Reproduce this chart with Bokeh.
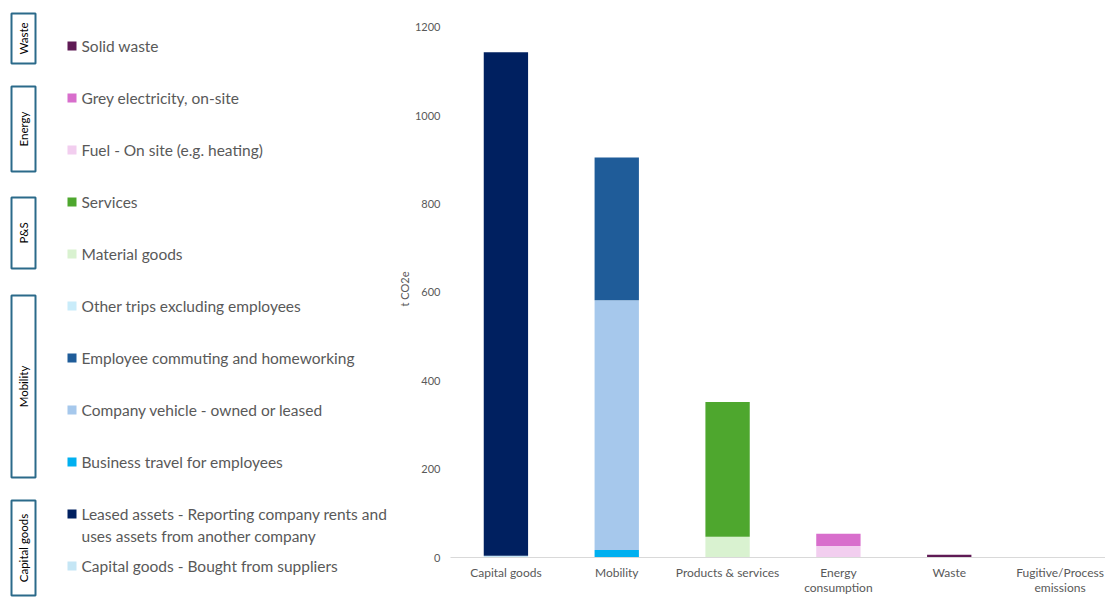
from bokeh.plotting import figure
from bokeh.layouts import row, column
from bokeh.models import ColumnDataSource, Range1d, FixedTicker
from bokeh.core.properties import value
from bokeh.embed import file_html
from bokeh.resources import INLINE

# ---------------- data ----------------
categories = ["Capital goods", "Mobility", "Products & services",
              "Energy\nconsumption", "Waste", "Fugitive/Process\nemissions"]
y_ticks = [0, 200, 400, 600, 800, 1000, 1200]

capital_goods_bought = [4, 0, 0, 0, 0, 0]
leased_assets = [1139, 0, 0, 0, 0, 0]
business_travel = [0, 17, 0, 0, 0, 0]
company_vehicle = [0, 565, 0, 0, 0, 0]
employee_commuting = [0, 323, 0, 0, 0, 0]
other_trips = [0, 0, 0, 0, 0, 0]
material_goods = [0, 0, 47, 0, 0, 0]
services = [0, 0, 305, 0, 0, 0]
fuel_on_site = [0, 0, 0, 26, 0, 0]
grey_electricity = [0, 0, 0, 28, 0, 0]
solid_waste = [0, 0, 0, 0, 6, 0]

# stacking order (bottom -> top)
series_names = [
    "Capital goods - Bought from suppliers",
    "Leased assets - Reporting company rents and\nuses assets from another company",
    "Business travel for employees",
    "Company vehicle - owned or leased",
    "Employee commuting and homeworking",
    "Other trips excluding employees",
    "Material goods",
    "Services",
    "Fuel - On site (e.g. heating)",
    "Grey electricity, on-site",
    "Solid waste",
]
series_values = [capital_goods_bought, leased_assets, business_travel, company_vehicle,
                 employee_commuting, other_trips, material_goods, services,
                 fuel_on_site, grey_electricity, solid_waste]
series_colors = ["#C5E6F5", "#002060", "#00B0F0", "#A6C8EC", "#1F5C99", "#C9ECFA",
                 "#D9F2D0", "#4EA72E", "#F2CEEF", "#D86ECC", "#5F1A55"]

# legend groups (top -> bottom)
group_names = ["Waste", "Energy", "P&S", "Mobility", "Capital goods"]

TEXT_COLOR = "#595959"
FONT = "Lato"
LEFT_W = 394

# ---------------- legend panel (pixel coordinates, y downwards) ----------------
lg = figure(width=LEFT_W, height=598, output_backend="svg", toolbar_location=None,
            x_range=Range1d(0, LEFT_W), y_range=Range1d(598, 0),
            x_axis_location=None, y_axis_location=None,
            min_border_left=0, min_border_right=0, min_border_top=0, min_border_bottom=0)
lg.outline_line_color = None
lg.xgrid.visible = False
lg.ygrid.visible = False

legend_top, legend_step = 45.5, 52
sq_l, sq_r, sq_half = 67, 76, 4.5
txt_x, line_gap = 81, 22
sq = {"l": [], "r": [], "t": [], "b": [], "c": []}
tx = {"x": [], "y": [], "t": []}
for i, (name, color) in enumerate(zip(reversed(series_names), reversed(series_colors))):
    yc = legend_top + legend_step * i
    sq["l"].append(sq_l); sq["r"].append(sq_r)
    sq["t"].append(yc - sq_half); sq["b"].append(yc + sq_half); sq["c"].append(color)
    for j, line in enumerate(name.split("\n")):
        tx["x"].append(txt_x); tx["y"].append(yc + line_gap * j); tx["t"].append(line)
lg.quad(left="l", right="r", top="t", bottom="b", fill_color="c", line_color=None,
        source=ColumnDataSource(sq))
lg.text(x="x", y="y", text="t", source=ColumnDataSource(tx), text_font=value(FONT),
        text_font_size=value("15.5px"), text_color=TEXT_COLOR,
        text_baseline="middle", text_align="left")

group_boxes = [(13, 63), (86, 171), (197, 268), (295, 477), (500, 595)]
gb = {"t": [b[0] for b in group_boxes], "b": [b[1] for b in group_boxes],
      "y": [(b[0] + b[1]) / 2 for b in group_boxes], "n": group_names}
lg.quad(left=11, right=35, top="t", bottom="b", source=ColumnDataSource(gb),
        fill_color="white", line_color="#2B6A8A", line_width=2)
lg.text(x=23, y="y", text="n", source=ColumnDataSource(gb), angle=90, angle_units="deg",
        text_font=value(FONT), text_font_size=value("11.5px"), text_color="black",
        text_align="center", text_baseline="middle")

# ---------------- chart ----------------
x_pos = list(range(len(categories)))
keys = ["s%d" % i for i in range(len(series_names))]
data = {"x": x_pos}
for k, v in zip(keys, series_values):
    data[k] = v
source = ColumnDataSource(data)

p = figure(width=1105 - LEFT_W, height=598, output_backend="svg", toolbar_location=None,
           x_range=Range1d(-0.5, -0.5 + 656 / 111), y_range=Range1d(0, 1215),
           min_border_left=55, min_border_right=0, min_border_top=20, min_border_bottom=40)
p.outline_line_color = None
p.xgrid.visible = False
p.ygrid.visible = False

p.vbar_stack(keys, x="x", width=0.4, color=series_colors, line_color=None, source=source)

p.yaxis.ticker = FixedTicker(ticks=y_ticks)
p.yaxis.axis_line_color = None
p.yaxis.major_tick_line_color = None
p.yaxis.minor_tick_line_color = None
p.yaxis.major_tick_out = 0
p.yaxis.major_tick_in = 0
p.yaxis.major_label_standoff = 10
p.yaxis.major_label_text_font = FONT
p.yaxis.major_label_text_font_size = "11px"
p.yaxis.major_label_text_color = TEXT_COLOR
p.yaxis.axis_label = "t CO2e"
p.yaxis.axis_label_text_font = FONT
p.yaxis.axis_label_text_font_size = "11px"
p.yaxis.axis_label_text_font_style = "normal"
p.yaxis.axis_label_text_color = TEXT_COLOR
p.yaxis.axis_label_standoff = 1

p.xaxis.ticker = FixedTicker(ticks=x_pos)
p.xaxis.major_label_overrides = {i: c for i, c in zip(x_pos, categories)}
p.xaxis.axis_line_color = "#D9D9D9"
p.xaxis.major_tick_line_color = None
p.xaxis.minor_tick_line_color = None
p.xaxis.major_tick_out = 0
p.xaxis.major_tick_in = 0
p.xaxis.major_label_standoff = 7
p.xaxis.major_label_text_font = FONT
p.xaxis.major_label_text_font_size = "12px"
p.xaxis.major_label_text_color = TEXT_COLOR
p.xaxis.major_label_text_line_height = 1.05

layout = row(column(lg), p)
open("out.html", "w").write(file_html(layout, INLINE))
